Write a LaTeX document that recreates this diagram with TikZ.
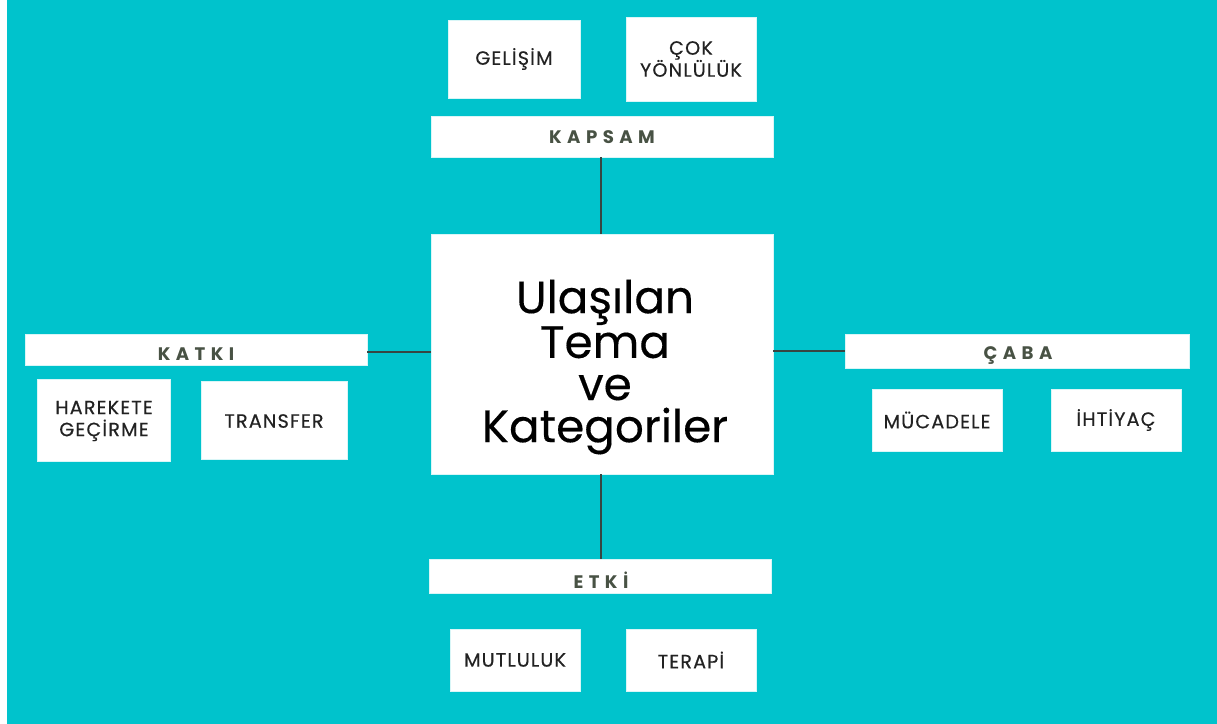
\documentclass[tikz,border=0pt]{standalone}
\usepackage{fontspec}
\setmainfont{Poppins}
\newfontfamily\barfont[LetterSpace=30]{Poppins}
\newfontfamily\boxfont[FakeBold=0.4,LetterSpace=6]{Poppins}
\newfontfamily\bigfont[FakeBold=0.3]{Poppins}
\definecolor{teal}{RGB}{0,195,204}
\definecolor{lbl}{RGB}{72,82,68}
\definecolor{txt}{RGB}{34,34,34}
\definecolor{ln}{RGB}{55,70,66}
\begin{document}
\begin{tikzpicture}[x=0.75pt,y=-0.75pt,
  wbox/.style={fill=white,draw=white!85!teal,line width=0.6pt},
  boxtext/.style={font=\boxfont\fontsize{14.4}{16.5}\selectfont,text=txt,align=center,inner sep=0pt},
  bartext/.style={font=\barfont\bfseries\fontsize{13.6}{14}\selectfont,text=lbl,inner sep=0pt},
  conn/.style={draw=ln,line width=1.5pt}]
\useasboundingbox (0,0) rectangle (1217,724);
\fill[white] (0,0) rectangle (1217,724);
\fill[teal] (7,0) rectangle (1217,724);
% center
\draw[wbox] (431,234) rectangle (773,474);
\coordinate (cT) at (601,234);
\coordinate (cB) at (601,474);
\coordinate (cL) at (431,352);
\coordinate (cR) at (773,351);
\node[font=\bigfont\fontsize{34}{31.6}\selectfont,text=black,align=center,inner sep=0pt] (center) at (605,367) {Ulaşılan\\Tema\\ve\\Kategoriler};
% bars
\draw[wbox] (431,116) rectangle (773,157);
\node[bartext] (kapsam) at (602,137) {KAPSAM};
\coordinate (kB) at (601,157);
\draw[wbox] (25,334) rectangle (367,365);
\node[bartext] (katki) at (196,354) {KATKI};
\coordinate (kaR) at (367,352);
\draw[wbox] (845,334) rectangle (1189,368);
\node[bartext] (caba) at (1018,356) {ÇABA};
\coordinate (cbL) at (845,351);
\draw[wbox] (429,559) rectangle (771,593);
\node[bartext] (etki) at (601,580) {ETKİ};
\coordinate (eT) at (601,559);
% connectors
\draw[conn] (kB) -- (cT);
\draw[conn] (kaR) -- (cL);
\draw[conn] (cR) -- (cbL);
\draw[conn] (cB) -- (eT);
% small boxes
\draw[wbox] (448,20) rectangle (580,98);
\node[boxtext] (gelisim) at (514,59) {GELİŞİM};
\draw[wbox] (626,17) rectangle (756,101);
\node[boxtext] (cok) at (691,59) {ÇOK\\YÖNLÜLÜK};
\draw[wbox] (37,379) rectangle (170,461);
\node[boxtext] (harekete) at (104,421) {HAREKETE\\GEÇİRME};
\draw[wbox] (201,381) rectangle (347,459);
\node[boxtext] (transfer) at (274,421) {TRANSFER};
\draw[wbox] (872,389) rectangle (1002,451);
\node[boxtext] (mucadele) at (937,420) {MÜCADELE};
\draw[wbox] (1051,389) rectangle (1181,451);
\node[boxtext] (ihtiyac) at (1116,420) {İHTİYAÇ};
\draw[wbox] (450,629) rectangle (580,691);
\node[boxtext] (mutluluk) at (515,660) {MUTLULUK};
\draw[wbox] (626,629) rectangle (756,691);
\node[boxtext] (terapi) at (691,660) {TERAPİ};
\end{tikzpicture}
\end{document}
